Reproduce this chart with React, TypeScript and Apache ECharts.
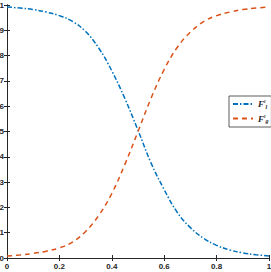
import React, { useEffect, useRef } from "react";
import * as echarts from "echarts";

const xValues = [0, 0.05, 0.1, 0.15, 0.2, 0.25, 0.3, 0.35, 0.4, 0.45, 0.5, 0.55, 0.6, 0.65, 0.7, 0.75, 0.8, 0.85, 0.9, 0.95, 1];
const liquidFraction = [0.992, 0.988, 0.982, 0.972, 0.958, 0.935, 0.895, 0.83, 0.74, 0.63, 0.505, 0.375, 0.27, 0.18, 0.12, 0.078, 0.05, 0.032, 0.02, 0.013, 0.008];
const gasFraction = [0.008, 0.012, 0.018, 0.027, 0.04, 0.063, 0.105, 0.168, 0.255, 0.37, 0.5, 0.632, 0.745, 0.833, 0.893, 0.934, 0.958, 0.972, 0.982, 0.988, 0.992];
const seriesNames = ["Fl", "Fg"];
const xTicks = ["0", "0.2", "0.4", "0.6", "0.8", "1"];

const AXIS = "#262626";

export default function App() {
  const ref = useRef<HTMLDivElement>(null);
  useEffect(() => {
    if (!ref.current) return;
    const chart = echarts.init(ref.current, undefined, { renderer: "svg" });
    const labelFont = { fontFamily: "Liberation Sans", fontSize: 8, fontWeight: "bold" as const, color: AXIS };
    chart.setOption({
      animation: false,
      backgroundColor: "#ffffff",
      grid: { left: 7, right: 2, top: 5, bottom: 14, containLabel: false, outerBoundsMode: "none" },
      xAxis: [
        {
          type: "value", min: 0, max: 1, interval: 0.2,
          axisLine: { lineStyle: { color: AXIS, width: 1 } },
          axisTick: { inside: true, length: 3, lineStyle: { color: AXIS } },
          axisLabel: {
            ...labelFont, margin: 4, showMaxLabel: true, showMinLabel: true,
            formatter: (v: number) => xTicks[Math.round(v / 0.2)] ?? "",
          },
          splitLine: { show: false },
        },
        {
          type: "value", min: 0, max: 1, interval: 0.2, position: "top",
          axisLine: { show: true, lineStyle: { color: AXIS, width: 1 } },
          axisTick: { inside: true, length: 3, lineStyle: { color: AXIS } },
          axisLabel: { show: false },
          splitLine: { show: false },
        },
      ],
      yAxis: [
        {
          type: "value", min: 0, max: 1, interval: 0.1,
          axisLine: { show: true, lineStyle: { color: AXIS, width: 1 } },
          axisTick: { show: true, inside: true, length: 3, lineStyle: { color: AXIS } },
          axisLabel: {
            ...labelFont, margin: 3, showMaxLabel: true, showMinLabel: true,
            formatter: (v: number) => (v === 0 ? "0" : v === 1 ? "1" : v.toFixed(1)),
          },
          splitLine: { show: false },
        },
        {
          type: "value", min: 0, max: 1, interval: 0.1, position: "right",
          axisLine: { show: true, lineStyle: { color: AXIS, width: 1 } },
          axisTick: { show: true, inside: true, length: 3, lineStyle: { color: AXIS } },
          axisLabel: { show: false },
          splitLine: { show: false },
        },
      ],
      legend: {
        left: 229, top: 96,
        orient: "vertical",
        backgroundColor: "#ffffff",
        borderColor: "#333333",
        borderWidth: 0.8,
        borderRadius: 0,
        padding: [3, 3, 3, 3],
        itemGap: 4,
        itemWidth: 20,
        itemHeight: 10,
        itemStyle: { opacity: 0 },
        data: seriesNames,
        formatter: (name: string) =>
          name === "Fl" ? "{f|F}{p|l}{s|l}" : "{f|F}{p|l}{s|g}",
        textStyle: {
          color: AXIS,
          rich: {
            f: { fontFamily: "Liberation Serif", fontStyle: "italic", fontWeight: "bold", fontSize: 9, color: AXIS },
            p: { fontFamily: "Liberation Serif", fontStyle: "italic", fontWeight: "bold", fontSize: 5, color: AXIS, padding: [0, 0, 5, 0] },
            s: { fontFamily: "Liberation Serif", fontStyle: "italic", fontWeight: "bold", fontSize: 6, color: AXIS, padding: [5, 0, 0, 0] },
          },
        },
      },
      series: [
        {
          name: seriesNames[0], type: "line", symbol: "none", smooth: 0.4,
          data: xValues.map((x, i) => [x, liquidFraction[i]]),
          lineStyle: { color: "#0072BD", width: 1.5, type: [5, 2, 1.5, 2] },
          itemStyle: { color: "#0072BD" },
        },
        {
          name: seriesNames[1], type: "line", symbol: "none", smooth: 0.4,
          data: xValues.map((x, i) => [x, gasFraction[i]]),
          lineStyle: { color: "#D95319", width: 1.5, type: [5, 4] },
          itemStyle: { color: "#D95319" },
        },
      ],
    });
    return () => chart.dispose();
  }, []);
  return <div ref={ref} style={{ position: "absolute", left: 0, top: 0, width: 271, height: 272 }} />;
}
